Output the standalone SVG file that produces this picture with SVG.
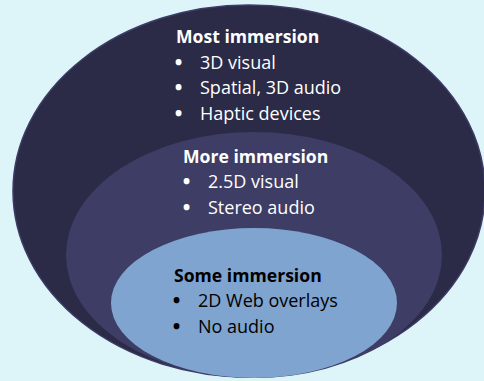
<svg xmlns="http://www.w3.org/2000/svg" width="484" height="381" viewBox="0 0 484 381">
  <style>
    .head { font-family: "Open Sans", "Liberation Sans", sans-serif; font-weight: bold; font-size: 17.6px; }
    .item { font-family: "Open Sans", "Liberation Sans", sans-serif; font-size: 18px; }
    .dot { font-weight: 800; font-size: 18px; }
    .light { fill: #ffffff; }
    .dark { fill: #000000; }
  </style>
  <rect x="0" y="0" width="484" height="381" fill="#ddf4f9"/>
  <g id="most">
    <ellipse cx="249" cy="191" rx="236" ry="186" fill="#2b2b47" stroke="#3c3c66" stroke-width="1.5"/>
    <text class="head light" x="176" y="43">Most immersion</text>
    <text class="item light"><tspan class="dot" x="175" y="69">•</tspan><tspan x="200" y="69">3D visual</tspan></text>
    <text class="item light"><tspan class="dot" x="175" y="94">•</tspan><tspan x="200" y="94">Spatial, 3D audio</tspan></text>
    <text class="item light"><tspan class="dot" x="175" y="120">•</tspan><tspan x="200" y="120">Haptic devices</tspan></text>
  </g>
  <g id="more">
    <ellipse cx="254" cy="255" rx="188" ry="123" fill="#3d3d65"/>
    <text class="head light" x="183" y="163">More immersion</text>
    <text class="item light"><tspan class="dot" x="183" y="188">•</tspan><tspan x="208" y="188">2.5D visual</tspan></text>
    <text class="item light"><tspan class="dot" x="183" y="214">•</tspan><tspan x="208" y="214">Stereo audio</tspan></text>
  </g>
  <g id="some">
    <ellipse cx="254" cy="303" rx="143" ry="75" fill="#7fa4cf"/>
    <text class="head dark" x="174" y="282">Some immersion</text>
    <text class="item dark"><tspan class="dot" x="173" y="307">•</tspan><tspan x="198" y="307">2D Web overlays</tspan></text>
    <text class="item dark"><tspan class="dot" x="173" y="333">•</tspan><tspan x="198" y="333">No audio</tspan></text>
  </g>
</svg>
